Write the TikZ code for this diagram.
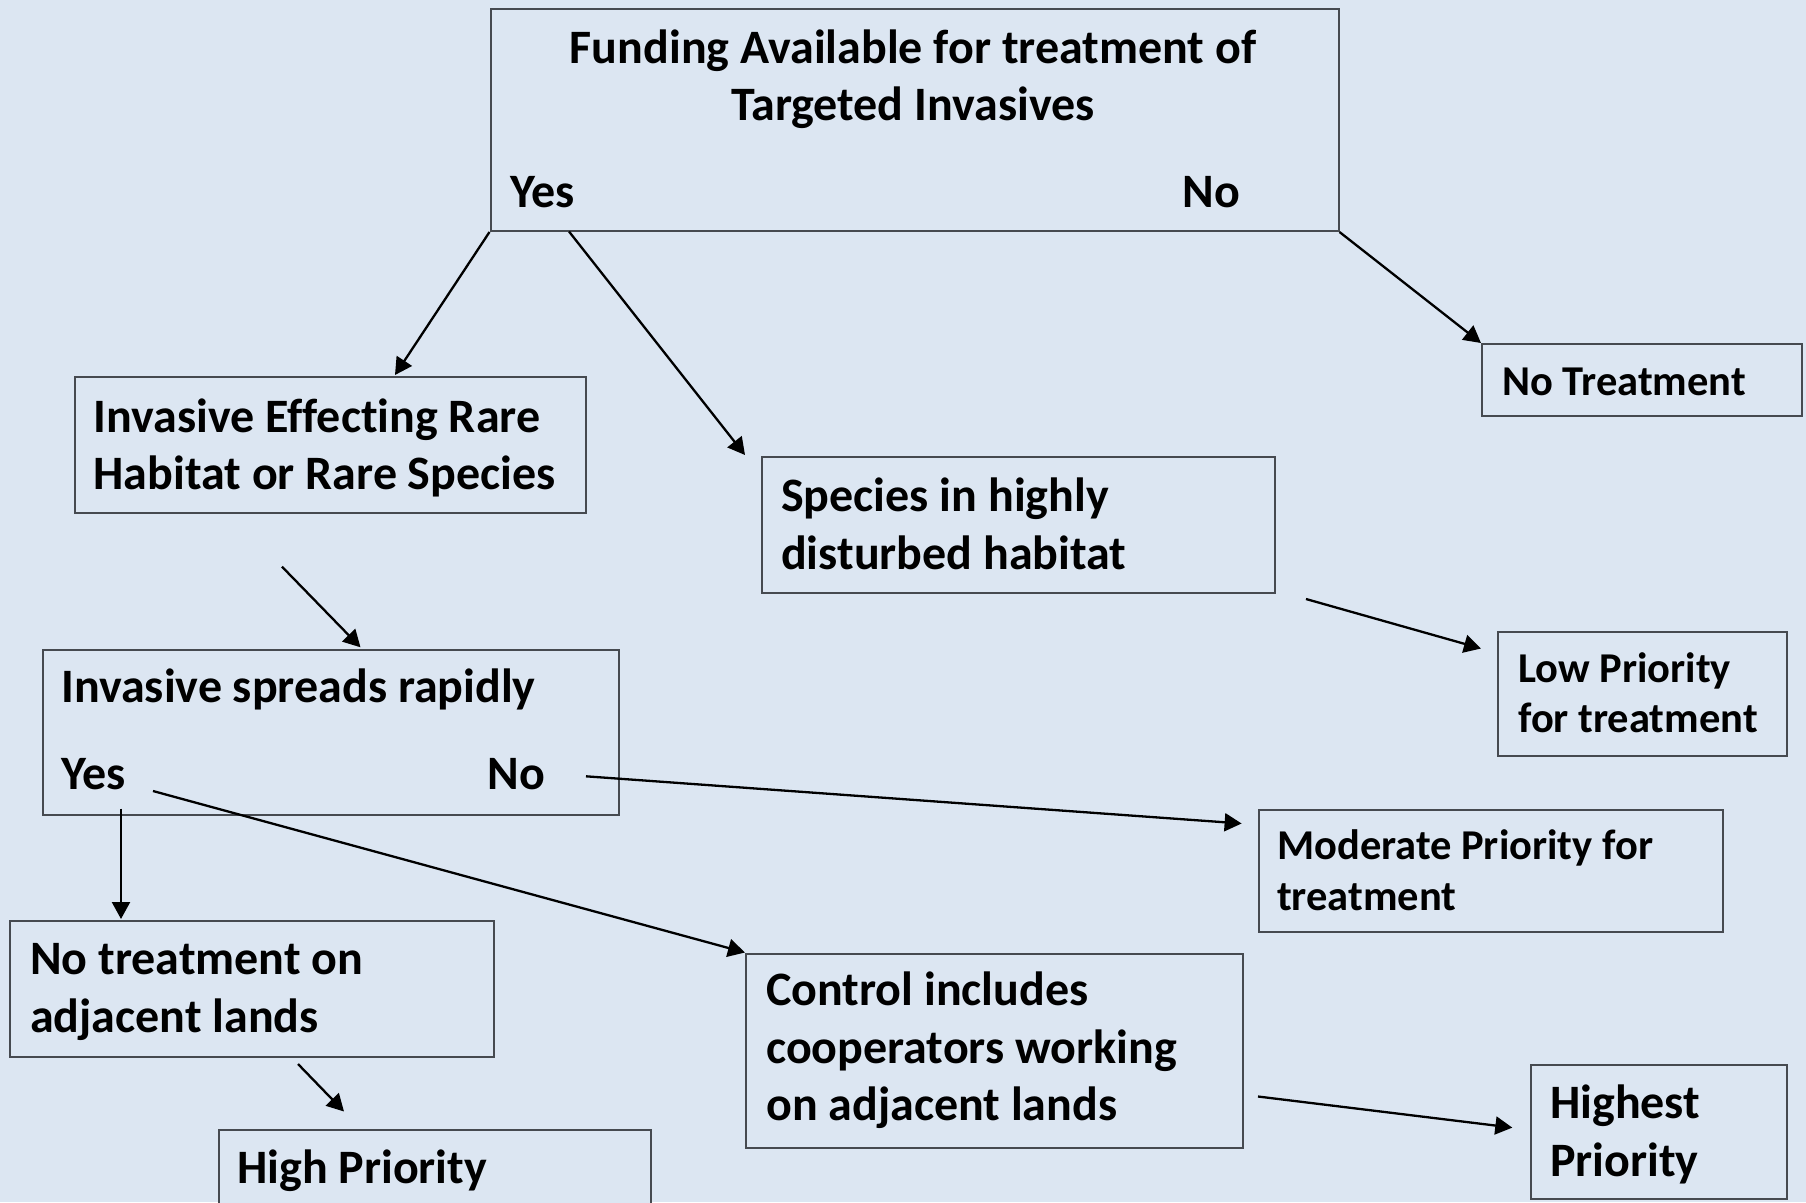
\documentclass[tikz,border=0pt]{standalone}
\usepackage{fontspec}
\setmainfont[Ligatures=NoCommon]{Carlito}
\usetikzlibrary{arrows.meta}
\definecolor{bgc}{RGB}{220,230,242}
\definecolor{edge}{RGB}{70,74,80}
\tikzset{
  box/.style={draw=edge, line width=2pt, fill=bgc, rectangle, inner sep=0pt, anchor=north west},
  lbl/.style={anchor=base west, inner sep=0pt, font=\fontsize{48}{58}\selectfont\bfseries},
  sml/.style={anchor=base west, inner sep=0pt, font=\fontsize{42.5}{50}\selectfont\bfseries},
  arr/.style={line width=2.3pt, -{Triangle[length=17pt, width=18pt]}}
}
\begin{document}
\begin{tikzpicture}[x=1pt, y=-1pt]
\path[fill=bgc] (0,0) rectangle (1806,1202);
\useasboundingbox (0,0) rectangle (1806,1202);
\begin{scope}
\clip (0,0) rectangle (1806,1202);
% boxes
\node[box, minimum width=848pt, minimum height=222pt] (top) at (489.5,8) {};
\node[box, minimum width=511pt, minimum height=136pt] (rare) at (73.7,375.5) {};
\node[box, minimum width=513pt, minimum height=136pt] (dist) at (761,456) {};
\node[box, minimum width=320pt, minimum height=72pt] (notr) at (1481,343) {};
\node[box, minimum width=289pt, minimum height=124pt] (low) at (1497,631) {};
\node[box, minimum width=576pt, minimum height=165pt] (rapid) at (41.5,648.5) {};
\node[box, minimum width=464pt, minimum height=122pt] (mod) at (1258,808.6) {};
\node[box, minimum width=484pt, minimum height=136pt] (adj) at (9.2,920) {};
\node[box, minimum width=497pt, minimum height=194pt] (coop) at (745,952.5) {};
\node[box, minimum width=256pt, minimum height=134pt] (highest) at (1529.6,1064) {};
\node[box, minimum width=432pt, minimum height=150pt] (high) at (217.7,1128.7) {};
\end{scope}
% texts
\node[lbl, anchor=base] (t1) at (913,63) {Funding Available for treatment of};
\node[lbl, anchor=base] (t2) at (913,120) {Targeted Invasives};
\node[lbl] (tyes) at (510,207) {Yes};
\node[lbl, anchor=base east] (tno) at (1240,207) {No};
\node[lbl] (r1) at (93.3,432) {Invasive Effecting Rare};
\node[lbl] (r2) at (93.3,489.5) {Habitat or Rare Species};
\node[lbl] (d1) at (781,511) {Species in highly};
\node[lbl] (d2) at (781,569) {disturbed habitat};
\node[sml] (n1) at (1502,395) {No Treatment};
\node[sml] (l1) at (1518,682) {Low Priority};
\node[sml] (l2) at (1518,732.5) {for treatment};
\node[lbl] (s1) at (61,702.6) {Invasive spreads rapidly};
\node[lbl] (syes) at (61,789) {Yes};
\node[lbl, anchor=base east] (sno) at (545,789) {No};
\node[sml] (m1) at (1277,859) {Moderate Priority for};
\node[sml] (m2) at (1277,910) {treatment};
\node[lbl] (a1) at (30,974) {No treatment on};
\node[lbl] (a2) at (30,1032) {adjacent lands};
\node[lbl] (c1) at (766,1005.5) {Control includes};
\node[lbl] (c2) at (766,1063) {cooperators working};
\node[lbl] (c3) at (766,1120.7) {on adjacent lands};
\node[lbl] (h1) at (1550,1118) {Highest};
\node[lbl] (h2) at (1550,1176) {Priority};
\node[lbl] (hp) at (237,1183) {High Priority};
% connector end points
\coordinate (e1) at (395,375);
\coordinate (s2) at (569,231.5);
\coordinate (e2) at (745,455);
\coordinate (s4) at (282,566.7);
\coordinate (e4) at (360.5,647.3);
\coordinate (s5) at (1306,599);
\coordinate (e5) at (1481,648.5);
\coordinate (s6) at (121,808.6);
\coordinate (e6) at (121,919);
\coordinate (s7) at (153,791);
\coordinate (e7) at (745,952.5);
\coordinate (s8) at (586,776.3);
\coordinate (e8) at (1241.6,823.5);
\coordinate (s9) at (298,1064);
\coordinate (e9) at (344,1111.5);
\coordinate (s10) at (1258,1096.5);
\coordinate (e10) at (1512.3,1127.6);
% connectors
\draw[arr] (top.south west) -- (e1);
\draw[arr] (s2) -- (e2);
\draw[arr] (top.south east) -- (notr.north west);
\draw[arr] (s4) -- (e4);
\draw[arr] (s5) -- (e5);
\draw[arr] (s6) -- (e6);
\draw[arr] (s7) -- (e7);
\draw[arr] (s8) -- (e8);
\draw[arr] (s9) -- (e9);
\draw[arr] (s10) -- (e10);
\end{tikzpicture}
\end{document}
